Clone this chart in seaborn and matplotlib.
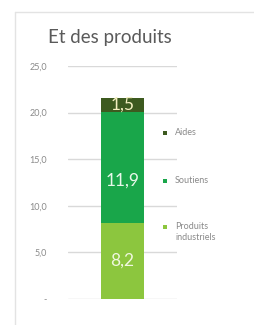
import matplotlib
matplotlib.use("Agg")
import matplotlib.pyplot as plt
import seaborn as sns
import pandas as pd
from matplotlib.lines import Line2D
from matplotlib.patches import Rectangle

categories = ["Et des produits"]
series = ["Produits industriels", "Soutiens", "Aides"]
values = [8.2, 11.9, 1.5]
value_labels = ["8,2", "11,9", "1,5"]
tick_values = [0, 5, 10, 15, 20, 25]
tick_labels = ["-", "5,0", "10,0", "15,0", "20,0", "25,0"]
colors = {"Produits industriels": "#8cc63e", "Soutiens": "#19a64a", "Aides": "#3d5a1f"}
legend_order = ["Aides", "Soutiens", "Produits industriels"]
legend_labels = ["Aides", "Soutiens", "Produits\nindustriels"]

sns.set_theme(style="white")
plt.rcParams["font.family"] = ["Lato", "DejaVu Sans"]

fig = plt.figure(figsize=(2.55, 3.25), dpi=100)
ax = fig.add_axes([68/255, 1-299/325, 109/255, (299-66)/325])

# stacked bars drawn as cumulative totals, top segment first
cum = []
s = 0
for v in values:
    s += v
    cum.append(s)
for name, total in reversed(list(zip(series, cum))):
    df = pd.DataFrame({"cat": categories, "val": [total]})
    sns.barplot(data=df, x="cat", y="val", color=colors[name], width=0.4,
                saturation=1, ax=ax, zorder=3, linewidth=0, edgecolor="none")

ax.set_ylim(0, 25)
ax.set_xlim(-0.5, 0.5)
ax.set_yticks(tick_values)
ax.set_yticklabels(tick_labels, fontsize=6.5, color="#8a8a8a")
ax.tick_params(axis="y", pad=15, length=0)
ax.set_xticks([])
ax.set_xlabel("")
ax.set_ylabel("")
ax.yaxis.grid(True, color="#d9d9d9", linewidth=1, zorder=0)
for sp in ax.spines.values():
    sp.set_visible(False)

# data labels
bottoms = [0] + cum[:-1]
label_frac = [0.5, 0.38, 0.5]
label_colors = ["#f0f7e0", "#e8f8ea", "#f3efc0"]
for b, v, lab, f, c in zip(bottoms, values, value_labels, label_frac, label_colors):
    ax.text(0, b + v * f, lab, ha="center", va="center", fontsize=12.5,
            color=c, zorder=5)

# legend (manual layout to match spacing)
legend_y = [133, 181, 227]
for name, lab, yy in zip(legend_order, legend_labels, legend_y):
    fig.add_artist(Rectangle((163/255, 1-(yy+2)/325), 4/255, 4/325,
                             facecolor=colors[name], edgecolor="none",
                             transform=fig.transFigure))
    fig.text(175/255, 1-(yy-5)/325, lab, ha="left", va="top", fontsize=6.5,
             color="#8a8a8a", linespacing=1.25)

fig.text(48/255, 1-38/325, "Et des produits", ha="left", va="center",
         fontsize=13.5, color="#5a5a5a")

# faint chart frame
fig.add_artist(Line2D([15/255, 15/255], [0, 1-12/325], color="#e3e3e3", linewidth=1))
fig.add_artist(Line2D([15/255, 1], [1-12/325, 1-12/325], color="#e3e3e3", linewidth=1))

fig.savefig("out.png", dpi=100)
